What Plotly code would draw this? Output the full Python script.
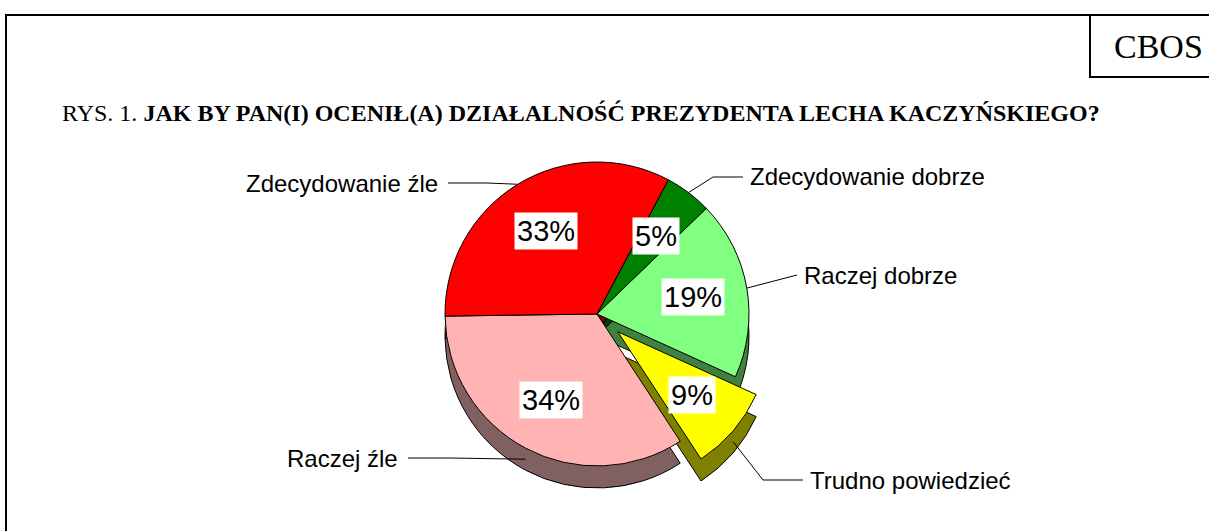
import numpy as np
import plotly.graph_objects as go

# ---- data ----
categories = ["Zdecydowanie dobrze", "Raczej dobrze", "Trudno powiedzieć", "Raczej źle", "Zdecydowanie źle"]
values = [5, 19, 9, 34, 33]
pull = [0, 0, 0.18, 0, 0]
top_colors = ["#008000", "#80FF80", "#FFFF00", "#FFB3B3", "#FF0000"]
side_colors = ["#004000", "#408040", "#808000", "#806060", "#800000"]
pct_labels = [f"{v}%" for v in values]

# ---- geometry (pixels) ----
W, H = 1209, 531
cx, cy = 597, 314
r = 152
depth = 22
rotation = 28
half = r * (1 + max(pull))

def X(px):
    return px / W

def Y(py):
    return 1 - py / H

def domain(cy_):
    return dict(x=[(cx - half) / W, (cx + half) / W],
                y=[(H - cy_ - half) / H, (H - cy_ + half) / H])

fig = go.Figure()

# side (depth) pie
fig.add_trace(go.Pie(
    labels=categories, values=values, sort=False, direction="clockwise",
    rotation=rotation, pull=pull, domain=domain(cy + depth),
    marker=dict(colors=side_colors, line=dict(color="black", width=1)),
    textinfo="none", hoverinfo="skip", showlegend=False,
))
# top pie
fig.add_trace(go.Pie(
    labels=categories, values=values, sort=False, direction="clockwise",
    rotation=rotation, pull=pull, domain=domain(cy),
    marker=dict(colors=top_colors, line=dict(color="black", width=1)),
    textinfo="none", showlegend=False,
))

# slice mid angles
total = sum(values)
cum = np.cumsum([0] + values[:-1])
mids = [np.radians(rotation + 360 * (c + v / 2) / total) for c, v in zip(cum, values)]

annotations = []
shapes = []

# percentage labels
for lab, th, p in zip(pct_labels, mids, pull):
    k = 0.64 + p
    px = cx + k * r * np.sin(th)
    py = cy - k * r * np.cos(th)
    annotations.append(dict(
        x=X(px), y=Y(py), xref="paper", yref="paper", text=lab, showarrow=False,
        xanchor="center", yanchor="middle",
        font=dict(family="Arial, Liberation Sans", size=29, color="black"),
        bgcolor="white", borderpad=2,
    ))

# category labels with leader lines: (text x, text y, anchor, elbow x, side offset)
label_pos = {
    "Zdecydowanie dobrze": (748, 177, "left", 713, 0),
    "Raczej dobrze": (802, 275, "left", None, 0),
    "Trudno powiedzieć": (808, 480, "left", 763, depth / 2),
    "Raczej źle": (400, 458, "right", 450, depth / 2),
    "Zdecydowanie źle": (440, 183, "right", 487, 0),
}
for cat, th, p in zip(categories, mids, pull):
    tx, ty, anc, ex, side = label_pos[cat]
    rr = r * (1 + p)
    epx = cx + rr * np.sin(th)
    epy = cy - rr * np.cos(th) + side
    annotations.append(dict(
        x=X(tx), y=Y(ty), xref="paper", yref="paper", text=cat, showarrow=False,
        xanchor=anc, yanchor="middle",
        font=dict(family="Arial, Liberation Sans", size=24, color="black"),
    ))
    sx = tx - 5 if anc == "left" else tx + 8
    if ex is None:
        path = f"M {X(sx)} {Y(ty)} L {X(epx)} {Y(epy)}"
    else:
        path = f"M {X(sx)} {Y(ty)} L {X(ex)} {Y(ty)} L {X(epx)} {Y(epy)}"
    shapes.append(dict(type="path", xref="paper", yref="paper", path=path,
                       line=dict(color="black", width=1)))

# frame and CBOS box
shapes.append(dict(type="rect", xref="paper", yref="paper",
                   x0=X(6), y0=Y(560), x1=X(1240), y1=Y(15),
                   line=dict(color="black", width=2)))
shapes.append(dict(type="rect", xref="paper", yref="paper",
                   x0=X(1090), y0=Y(77), x1=X(1240), y1=Y(15),
                   line=dict(color="black", width=2)))
annotations.append(dict(x=X(1158), y=Y(46), xref="paper", yref="paper", text="CBOS",
                        showarrow=False, xanchor="center", yanchor="middle",
                        font=dict(family="Liberation Serif, Times New Roman", size=34, color="black")))
annotations.append(dict(
    x=X(60), y=Y(113), xref="paper", yref="paper", xanchor="left", yanchor="middle",
    showarrow=False,
    text="RYS. 1. <b>JAK BY PAN(I) OCENIŁ(A) DZIAŁALNOŚĆ PREZYDENTA LECHA KACZYŃSKIEGO?</b>",
    font=dict(family="Liberation Serif, Times New Roman", size=24, color="black"),
))

fig.update_layout(
    width=W, height=H, margin=dict(l=0, r=0, t=0, b=0),
    paper_bgcolor="white", plot_bgcolor="white",
    annotations=annotations, shapes=shapes,
)

fig.write_html("out.html", config={"displayModeBar": False},
               post_script="document.body.style.margin='0px';")
